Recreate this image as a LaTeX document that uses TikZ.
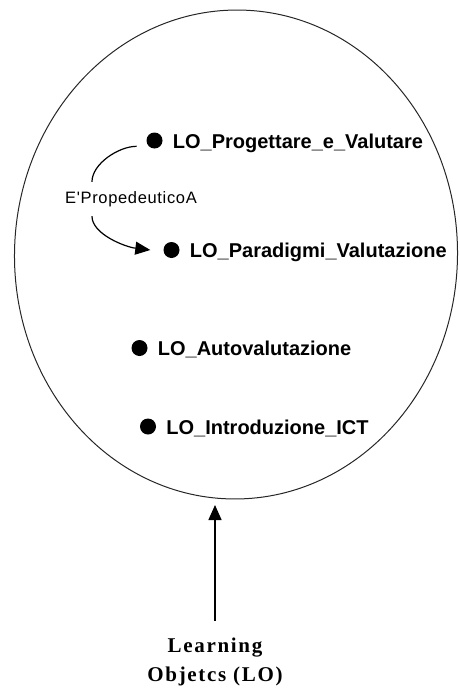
\documentclass[tikz,border=0pt]{standalone}
\usepackage{fontspec}
\newfontfamily\losans{Liberation Sans}
\newfontfamily\lopropfont[LetterSpace=4]{Liberation Sans}
\newfontfamily\loserif[LetterSpace=8]{Liberation Serif}
\usetikzlibrary{positioning,shapes.geometric,arrows.meta}

\begin{document}
\begin{tikzpicture}[
	x=1pt, y=-1pt,
	loset/.style = {draw=black!85, line width=1pt, ellipse, minimum width=443pt, minimum height=489pt, inner sep=0pt},
	lodot/.style = {circle, fill=black, minimum size=16pt, inner sep=0pt},
	lotext/.style = {font=\losans\bfseries\fontsize{20}{24}\selectfont, inner sep=0pt, text height=15pt, text depth=0pt},
	proplabel/.style = {font=\lopropfont\fontsize{16.5}{20}\selectfont, inner xsep=0pt, inner ysep=9pt, text height=12pt, text depth=4pt},
	lolabel/.style = {font=\loserif\bfseries\fontsize{21}{29}\selectfont, align=center, inner sep=0pt},
	loline/.style = {draw=black, line width=1.2pt},
	loarrow/.style = {-{Triangle[length=15pt,width=13pt]}},
]
\useasboundingbox (0,0) rectangle (459,688);
\node[loset, rotate=-1.5] (lo-set) at (236,254.5) {};

\node[lodot] (b1) at (154.5,140.5) {};
\node[lodot] (b2) at (171.5,250) {};
\node[lodot] (b3) at (139.5,348) {};
\node[lodot] (b4) at (148,426.5) {};
\node[lotext] (progettare) [right=10pt of b1] {LO\_Progettare\_e\_Valutare};
\node[lotext] (paradigmi) [right=10pt of b2] {LO\_Paradigmi\_Valutazione};
\node[lotext] (autoval) [right=10pt of b3] {LO\_Autovalutazione};
\node[lotext] (intro) [right=10pt of b4] {LO\_Introduzione\_ICT};

\node[proplabel] (prop) at (131,199) {E'PropedeuticoA};
\draw[loline, shorten <=12pt] (b1.south west) .. controls +(-30,0) and +(0,-18) .. ([xshift=27pt]prop.north west);
\draw[loline, loarrow] ([xshift=27pt]prop.south west) .. controls +(0,18) and +(-25,-3) .. ([xshift=-13pt]b2.west);

\node[lolabel, anchor=north] (lo) at (215,637.5) {Learning\\Objetcs (LO)};
\coordinate (lo-tip) at (215,505);
\draw[loline, line width=1.5pt, loarrow, shorten <=17pt] (lo.north) -- (lo-tip);
\end{tikzpicture}
\end{document}
